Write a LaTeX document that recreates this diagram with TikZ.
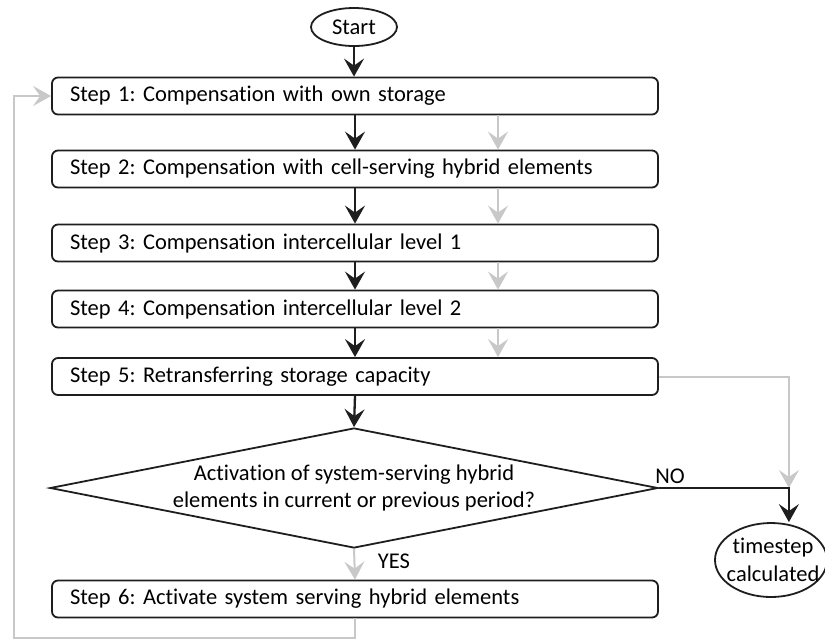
\documentclass[tikz,border=0pt]{standalone}
\usepackage{fontspec}
\setmainfont{Carlito}[Ligatures=NoCommon]
\usetikzlibrary{shapes.geometric,arrows.meta}
\definecolor{lgray}{RGB}{200,200,200}
\definecolor{dk}{RGB}{30,30,30}
\frenchspacing
\begin{document}
\begin{tikzpicture}[x=1pt,y=1pt, font=\fontsize{22.5}{27}\selectfont,
 stepbox/.style={draw=dk, line width=1.8pt, rounded corners=6pt, minimum width=606pt, minimum height=37pt, text width=570pt, inner xsep=18pt, inner ysep=0pt, align=left},
 term/.style={ellipse, draw=dk, line width=1.8pt, inner sep=0pt},
 blk/.style={draw=dk, line width=2.3pt, -{Stealth[length=18pt,width=20pt,inset=7pt]}},
 gry/.style={draw=lgray, line width=2pt, -{Stealth[length=18pt,width=20pt,inset=7pt]}},
 lbl/.style={inner sep=0pt}
 ]
\useasboundingbox (0,0) rectangle (825,-641);

\node[term, minimum width=86pt, minimum height=38pt] (start) at (354,-27) {Start};
\node[stepbox] (s1) at (355,-96) {Step 1: Compensation with own storage};
\node[stepbox] (s2) at (355,-169) {Step 2: Compensation with cell-serving hybrid elements};
\node[stepbox] (s3) at (355,-243) {Step 3: Compensation intercellular level 1};
\node[stepbox] (s4) at (355,-309) {Step 4: Compensation intercellular level 2};
\node[stepbox] (s5) at (355,-376.5) {Step 5: Retransferring storage capacity};
\node[diamond, draw=dk, line width=1.8pt, minimum width=608pt, minimum height=120pt, inner sep=0pt] (dec) at (354,-488) {};
\node[lbl, align=center] (dect) at (dec.center) {Activation of system-serving hybrid\\elements in current or previous period?};
\node[stepbox] (s6) at (355,-599) {Step 6: Activate system serving hybrid elements};
\node[term, minimum width=112pt, minimum height=74pt] (ts) at (771,-560) {};
\node[lbl, align=center, font=\fontsize{22.5}{28}\selectfont] (tst) at ([xshift=2pt]ts.center) {timestep\\calculated};

\node[lbl] (no) at (670,-476) {NO};
\node[lbl] (yes) at (394,-561) {YES};

% gray parallel arrows
\draw[gry] ([xshift=143pt]s1.south) -- ([xshift=143pt]s2.north);
\draw[gry] ([xshift=143pt]s2.south) -- ([xshift=143pt]s3.north);
\draw[gry] ([xshift=143pt]s3.south) -- ([xshift=143pt]s4.north);
\draw[gry] ([xshift=143pt]s4.south) -- ([xshift=143pt]s5.north);

% black main flow
\draw[blk] (start.south) -- (start.south |- s1.north);
\draw[blk] (s1.south) -- (s2.north);
\draw[blk] (s2.south) -- (s3.north);
\draw[blk] (s3.south) -- (s4.north);
\draw[blk] (s4.south) -- (s5.north);
\draw[blk] (s5.south) -- (dec.north);

% right side
\path (dec.east) ++(130,0) coordinate (noc);
\draw[gry] (s5.east) -| (noc);
\draw[blk] (dec.east) -- (noc) -- (noc |- ts.north);

% YES and loop
\draw[gry] (dec.south) -- (s6.north);
\coordinate (lb) at (14,-638);
\draw[gry] (s6.south) |- (lb) |- (s1.west);
\end{tikzpicture}
\end{document}
